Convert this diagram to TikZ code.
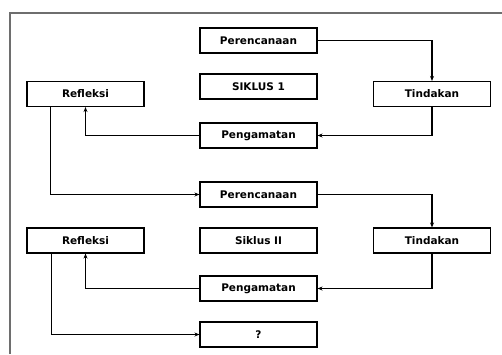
\documentclass[tikz,border=0pt]{standalone}
\usepackage{fontspec}
\setmainfont{DejaVu Sans}
\usepackage{tikz}
\usetikzlibrary{arrows.meta, positioning}
\definecolor{framegray}{HTML}{6E6E6E}

\begin{document}
\begin{tikzpicture}[x=1pt, y=-1pt,
  every node/.style={font=\bfseries\fontsize{10.5}{12}\selectfont},
  box/.style={draw, line width=1.1pt, fill=white, minimum width=117pt, minimum height=25pt, inner sep=0pt, align=center},
  arr/.style={line width=1.1pt, -{Stealth[length=5pt, width=4pt]}}]
  \useasboundingbox (0,0) rectangle (502,354);
  \draw[framegray, line width=1.2pt] (10,354) -- (10,13) -- (502,13);

  % siklus 1
  \node[box] (plan1) at (258.5,40.5) {Perencanaan};
  \node[box] (siklus1) at (258.5,86.5) {SIKLUS 1};
  \node[box] (refl1) at (85.5,94) {Refleksi};
  \node[box] (tind1) at (432,94) {Tindakan};
  \node[box] (amat1) at (258.5,135.5) {Pengamatan};

  % siklus 2
  \node[box] (plan2) at (258.5,194.5) {Perencanaan};
  \node[box] (refl2) at (85.5,240.5) {Refleksi};
  \node[box] (siklus2) at (258.5,240.5) {Siklus II};
  \node[box] (tind2) at (432,240.5) {Tindakan};
  \node[box] (amat2) at (258.5,288.5) {Pengamatan};
  \node[box] (tanya) at (258.5,334.5) {?};

  \draw[arr] (plan1.east) -| (tind1.north);
  \draw[arr] (tind1.south) |- (amat1.east);
  \draw[arr] (amat1.west) -| (refl1.south);
  \draw[arr] ([xshift=-35pt]refl1.south) |- (plan2.west);
  \draw[arr] (plan2.east) -| (tind2.north);
  \draw[arr] (tind2.south) |- (amat2.east);
  \draw[arr] (amat2.west) -| (refl2.south);
  \draw[arr] ([xshift=-34pt]refl2.south) |- (tanya.west);
\end{tikzpicture}
\end{document}
